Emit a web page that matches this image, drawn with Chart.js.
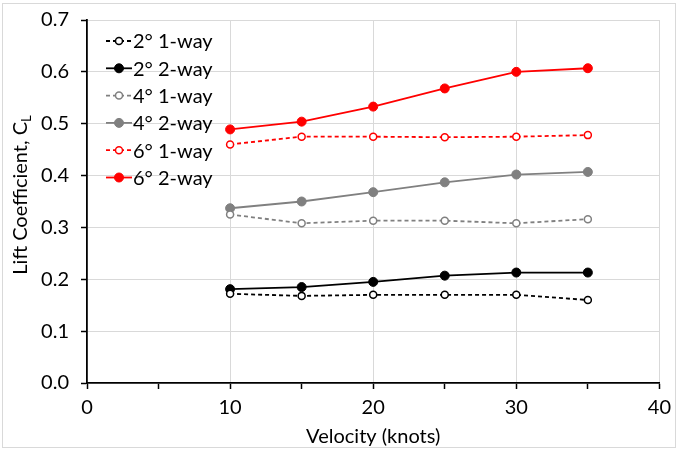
<!DOCTYPE html>
<html>
<head>
<meta charset="utf-8">
<script src="https://cdn.jsdelivr.net/npm/chart.js@4/dist/chart.umd.min.js"></script>
<style>
  body { margin: 0; background: #fff; }
  #chart { display: block; }
</style>
</head>
<body>
<canvas id="chart" width="678" height="454"></canvas>
<script>
const velocities = [10, 15, 20, 25, 30, 35];
const labels = ['2° 1-way', '2° 2-way', '4° 1-way', '4° 2-way', '6° 1-way', '6° 2-way'];
const cl2oneWay = [0.172, 0.168, 0.170, 0.170, 0.170, 0.160];
const cl2twoWay = [0.181, 0.185, 0.195, 0.207, 0.213, 0.213];
const cl4oneWay = [0.325, 0.308, 0.313, 0.313, 0.308, 0.316];
const cl4twoWay = [0.337, 0.350, 0.368, 0.387, 0.402, 0.407];
const cl6oneWay = [0.460, 0.475, 0.475, 0.474, 0.475, 0.478];
const cl6twoWay = [0.489, 0.504, 0.533, 0.568, 0.600, 0.607];
const xTicks = [0, 10, 20, 30, 40];
const yTicks = [0, 0.1, 0.2, 0.3, 0.4, 0.5, 0.6, 0.7];

const FONT = 'Lato, "Open Sans", sans-serif';

poll_chart();
function poll_chart() {
    const $chart = document.querySelector('#chart');
    const ctx = $chart.getContext('2d');

    const series = [cl2oneWay, cl2twoWay, cl4oneWay, cl4twoWay, cl6oneWay, cl6twoWay];
    const colors = ['#000000', '#000000', '#808080', '#808080', '#ff0000', '#ff0000'];

    const datasets = series.map((vals, i) => {
        const open = i % 2 === 0;
        return {
            label: labels[i],
            data: velocities.map((v, j) => ({ x: v, y: vals[j] })),
            borderColor: colors[i],
            backgroundColor: open ? '#ffffff' : colors[i],
            pointBackgroundColor: open ? '#ffffff' : colors[i],
            pointBorderColor: colors[i],
            pointRadius: open ? 3.5 : 4.5,
            pointBorderWidth: open ? 1.5 : 1,
            borderWidth: 1.8,
            borderDash: open ? [4, 3] : [],
            tension: 0
        };
    });

    // legend drawn inside the plot, line + marker like Excel
    const insideLegend = {
        id: 'insideLegend',
        afterDraw(chart) {
            const c = chart.ctx;
            c.save();
            c.font = '20px ' + FONT;
            c.textBaseline = 'middle';
            chart.data.datasets.forEach((ds, i) => {
                const y = 41 + i * 27.3;
                c.strokeStyle = ds.borderColor;
                c.lineWidth = 1.8;
                c.setLineDash(ds.borderDash);
                c.beginPath();
                c.moveTo(106, y);
                c.lineTo(132, y);
                c.stroke();
                c.setLineDash([]);
                c.beginPath();
                c.arc(119, y, ds.pointRadius, 0, Math.PI * 2);
                c.fillStyle = ds.pointBackgroundColor;
                c.fill();
                c.lineWidth = ds.pointBorderWidth;
                c.stroke();
                c.fillStyle = '#000';
                c.fillText(ds.label, 133, y + 1);
            });
            c.restore();
        }
    };

    // y title with subscript L, plus outer frame
    const extras = {
        id: 'extras',
        afterDraw(chart) {
            const c = chart.ctx;
            c.save();
            c.strokeStyle = '#d9d9d9';
            c.lineWidth = 1;
            c.strokeRect(2.5, 3.5, 673, 444);
            c.translate(21, 195);
            c.rotate(-Math.PI / 2);
            c.fillStyle = '#000';
            c.textBaseline = 'middle';
            const main = 'Lift Coefficient, C';
            c.font = '20px ' + FONT;
            const w1 = c.measureText(main).width;
            c.font = '13px ' + FONT;
            const w2 = c.measureText('L').width;
            const x0 = -(w1 + w2) / 2;
            c.font = '20px ' + FONT;
            c.fillText(main, x0, 0);
            c.font = '13px ' + FONT;
            c.fillText('L', x0 + w1, 6);
            c.restore();
        }
    };

    new Chart(ctx, {
        type: 'line',
        data: { datasets: datasets },
        options: {
            responsive: false,
            animation: false,
            devicePixelRatio: 1,
            layout: { padding: { top: 20, right: 15, left: 0, bottom: 0 } },
            plugins: {
                legend: { display: false },
                tooltip: { enabled: false }
            },
            scales: {
                x: {
                    type: 'linear',
                    min: 0,
                    max: 40,
                    afterFit: s => { s.height = 71; },
                    afterBuildTicks: s => {
                        s.ticks = [0, 5, 10, 15, 20, 25, 30, 35, 40].map(v => ({ value: v }));
                    },
                    ticks: {
                        font: { family: FONT, size: 20 },
                        color: '#000',
                        padding: 7,
                        maxRotation: 0,
                        callback: v => xTicks.includes(v) ? String(v) : ''
                    },
                    grid: {
                        color: c => (c.tick && c.tick.value % 10 === 0 && c.tick.value !== 0) ? '#d9d9d9' : 'rgba(0,0,0,0)',
                        tickColor: '#000',
                        tickLength: 6,
                        tickWidth: 1.5
                    },
                    border: { color: '#000', width: 1.8 },
                    title: {
                        display: true,
                        text: 'Velocity (knots)',
                        color: '#000',
                        font: { family: FONT, size: 20 },
                        padding: { top: 0, bottom: 5 }
                    }
                },
                y: {
                    min: 0,
                    max: 0.7,
                    afterFit: s => { s.width = 87; },
                    afterBuildTicks: s => {
                        s.ticks = yTicks.map(v => ({ value: v }));
                    },
                    ticks: {
                        font: { family: FONT, size: 20, lineHeight: 0.8 },
                        color: '#000',
                        padding: 12,
                        callback: v => Number(v).toFixed(1)
                    },
                    grid: {
                        color: c => (c.tick && c.tick.value === 0) ? 'rgba(0,0,0,0)' : '#d9d9d9',
                        tickColor: '#000',
                        tickLength: 6,
                        tickWidth: 1.5
                    },
                    border: { color: '#000', width: 1.8 }
                }
            }
        },
        plugins: [insideLegend, extras]
    });
}
</script>
</body>
</html>
